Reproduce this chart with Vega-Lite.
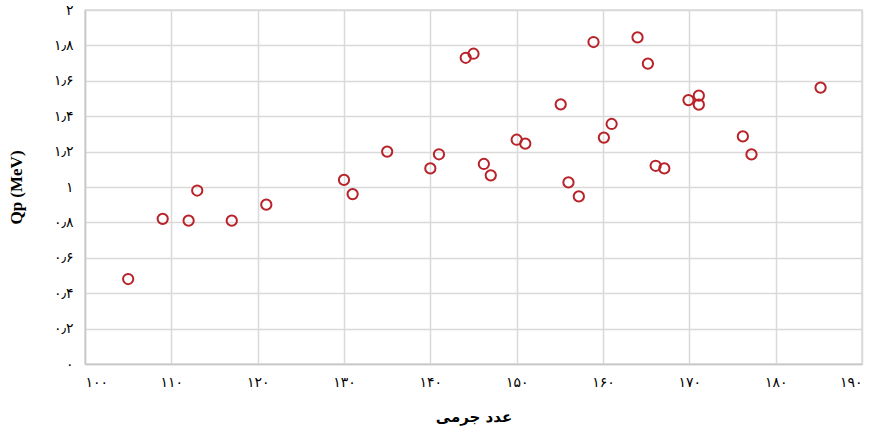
{
  "$schema": "https://vega.github.io/schema/vega-lite/v6.json",
  "width": 777,
  "height": 354,
  "autosize": {"type": "none"},
  "padding": {"left": 85, "top": 10, "right": 8, "bottom": 75},
  "background": "white",
  "config": {
    "view": {"stroke": "#d9d9d9", "strokeWidth": 1.5},
    "axis": {
      "gridColor": "#d9d9d9",
      "gridWidth": 1.5,
      "domainColor": "#c8c8c8",
      "domainWidth": 1.5,
      "ticks": false,
      "labelFont": "DejaVu Sans",
      "labelFontSize": 14,
      "labelColor": "#000000",
      "titleColor": "#000000"
    }
  },
  "data": {
    "values": [
      {"A": 105, "Qp": 0.48},
      {"A": 109, "Qp": 0.82},
      {"A": 112, "Qp": 0.81},
      {"A": 113, "Qp": 0.98},
      {"A": 117, "Qp": 0.81},
      {"A": 121, "Qp": 0.9},
      {"A": 130, "Qp": 1.04},
      {"A": 131, "Qp": 0.96},
      {"A": 135, "Qp": 1.2},
      {"A": 140, "Qp": 1.105},
      {"A": 141, "Qp": 1.185},
      {"A": 144.1, "Qp": 1.73},
      {"A": 145, "Qp": 1.753},
      {"A": 146.2, "Qp": 1.13},
      {"A": 147, "Qp": 1.066},
      {"A": 150, "Qp": 1.267},
      {"A": 151, "Qp": 1.245},
      {"A": 155.1, "Qp": 1.467},
      {"A": 156, "Qp": 1.026},
      {"A": 157.2, "Qp": 0.947},
      {"A": 158.9, "Qp": 1.819},
      {"A": 160.1, "Qp": 1.279},
      {"A": 161, "Qp": 1.356},
      {"A": 164, "Qp": 1.845},
      {"A": 165.2, "Qp": 1.697},
      {"A": 166.1, "Qp": 1.12},
      {"A": 167.1, "Qp": 1.105},
      {"A": 169.9, "Qp": 1.491},
      {"A": 171.1, "Qp": 1.516},
      {"A": 171.1, "Qp": 1.465},
      {"A": 176.2, "Qp": 1.286},
      {"A": 177.2, "Qp": 1.184},
      {"A": 185.2, "Qp": 1.561}
    ]
  },
  "mark": {"type": "point", "shape": "circle", "filled": false, "size": 105, "strokeWidth": 2, "color": "#b8232a", "opacity": 1},
  "encoding": {
    "x": {
      "field": "A",
      "type": "quantitative",
      "scale": {"domain": [100, 190], "nice": false, "zero": false},
      "axis": {
        "values": [100, 110, 120, 130, 140, 150, 160, 170, 180, 190],
        "title": "عدد جرمی",
        "titleFont": "DejaVu Sans",
        "titleFontSize": 15,
        "titleFontWeight": "bold",
        "titlePadding": 20,
        "labelPadding": 11,
        "labelExpr": "replace(replace(replace(replace(replace(replace(replace(replace(replace(replace(datum.label, regexp('0','g'), '۰'), regexp('1','g'), '۱'), regexp('2','g'), '۲'), regexp('3','g'), '۳'), regexp('4','g'), '۴'), regexp('5','g'), '۵'), regexp('6','g'), '۶'), regexp('7','g'), '۷'), regexp('8','g'), '۸'), regexp('9','g'), '۹')"
      }
    },
    "y": {
      "field": "Qp",
      "type": "quantitative",
      "scale": {"domain": [0, 2], "nice": false},
      "axis": {
        "values": [0, 0.2, 0.4, 0.6, 0.8, 1, 1.2, 1.4, 1.6, 1.8, 2],
        "format": ".1~f",
        "title": "Qp (MeV)",
        "titleFont": "Liberation Serif",
        "titleFontSize": 17,
        "titleFontWeight": "bold",
        "titlePadding": 28,
        "labelPadding": 12,
        "labelExpr": "replace(replace(replace(replace(replace(replace(replace(replace(replace(replace(replace(datum.label, regexp('[.]','g'), '٫'), regexp('0','g'), '۰'), regexp('1','g'), '۱'), regexp('2','g'), '۲'), regexp('3','g'), '۳'), regexp('4','g'), '۴'), regexp('5','g'), '۵'), regexp('6','g'), '۶'), regexp('7','g'), '۷'), regexp('8','g'), '۸'), regexp('9','g'), '۹')"
      }
    }
  }
}
